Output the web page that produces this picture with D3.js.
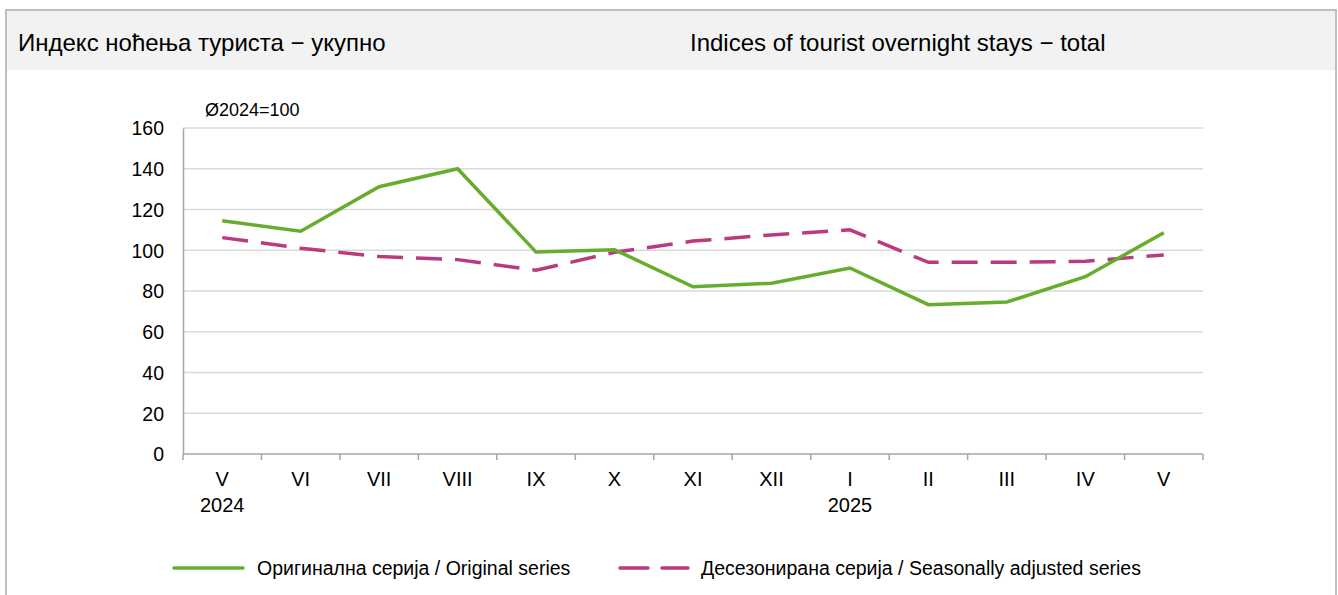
<!DOCTYPE html>
<html><head><meta charset="utf-8">
<script src="https://cdn.jsdelivr.net/npm/d3@7"></script>
<style>
html,body{margin:0;padding:0;background:#fff;}
svg text{font-family:"Liberation Sans",Arial,sans-serif;fill:#000;}
</style></head>
<body>
<svg id="c" width="1338" height="595"></svg>
<script>
const months = ["V","VI","VII","VIII","IX","X","XI","XII","I","II","III","IV","V"];
const years = ["2024","","","","","","","","2025","","","",""];
const original = [114.5,109.3,131.2,140.0,99.1,100.3,82.1,83.8,91.3,73.3,74.6,87.0,108.6];
const adjusted = [106.2,101.0,96.9,95.4,90.2,99.0,104.5,107.5,110.0,94.1,94.1,94.6,97.7];
const yTicks = [0,20,40,60,80,100,120,140,160];

const svg = d3.select("#c");
// frame
svg.append("rect").attr("x",6).attr("y",10).attr("width",1330).attr("height",600)
  .attr("fill","#fff").attr("stroke","#bfbfbf").attr("stroke-width",2);
svg.append("rect").attr("x",7).attr("y",11).attr("width",1328).attr("height",59).attr("fill","#f2f2f2");
svg.append("text").attr("x",18).attr("y",51).attr("font-size",24).text("Индекс ноћења туриста − укупно");
svg.append("text").attr("x",690).attr("y",51).attr("font-size",24).text("Indices of tourist overnight stays − total");

const x0 = 183, x1 = 1203, yTop = 128, yBot = 454;
const idx = d3.range(months.length);
const xb = d3.scaleBand().domain(idx).range([x0,x1]).padding(0);
const y = d3.scaleLinear().domain([0,160]).range([yBot,yTop]);
const cx = i => xb(i) + xb.bandwidth()/2;

// gridlines
svg.append("g").selectAll("line").data(yTicks.filter(d=>d>0)).join("line")
  .attr("x1",x0).attr("x2",x1).attr("y1",d=>y(d)).attr("y2",d=>y(d))
  .attr("stroke","#d9d9d9").attr("stroke-width",1.3);

// y axis
const ya = svg.append("g").attr("transform",`translate(${x0},0)`)
  .call(d3.axisLeft(y).tickValues(yTicks).tickSize(0).tickPadding(19));
ya.select(".domain").attr("stroke","#a6a6a6").attr("stroke-width",1.5);
ya.selectAll("text").attr("font-size",19.5).attr("font-family","Liberation Sans, Arial, sans-serif").attr("dy","0.35em");

// x axis
svg.append("line").attr("x1",x0).attr("x2",x1).attr("y1",yBot).attr("y2",yBot)
  .attr("stroke","#a6a6a6").attr("stroke-width",1.5);
svg.append("g").selectAll("line").data(d3.range(months.length+1)).join("line")
  .attr("x1",i=> i<months.length? xb(i): x1).attr("x2",i=> i<months.length? xb(i): x1)
  .attr("y1",yBot).attr("y2",yBot+6).attr("stroke","#a6a6a6").attr("stroke-width",1.5);
svg.append("g").selectAll("text").data(idx).join("text")
  .attr("x",cx).attr("y",486).attr("text-anchor","middle").attr("font-size",20).text(i=>months[i]);
svg.append("g").selectAll("text").data(idx.filter(i=>years[i])).join("text")
  .attr("x",cx).attr("y",512).attr("text-anchor","middle").attr("font-size",20).text(i=>years[i]);

svg.append("text").attr("x",205).attr("y",116).attr("font-size",18).text("Ø2024=100");

const line = d3.line().x((d,i)=>cx(i)).y(d=>y(d));
svg.append("path").datum(adjusted).attr("d",line).attr("fill","none")
  .attr("stroke","#bb3a7f").attr("stroke-width",3.5).attr("stroke-dasharray","26,13");
svg.append("path").datum(original).attr("d",line).attr("fill","none")
  .attr("stroke","#67ad2d").attr("stroke-width",3.5);

// legend
const lg = svg.append("g");
lg.append("line").attr("x1",174).attr("x2",243).attr("y1",568).attr("y2",568)
  .attr("stroke","#67ad2d").attr("stroke-width",3.5).attr("stroke-linecap","round");
lg.append("text").attr("x",257).attr("y",575).attr("font-size",19.5).text("Оригинална серија / Original series");
lg.append("line").attr("x1",620).attr("x2",688).attr("y1",568).attr("y2",568)
  .attr("stroke","#bb3a7f").attr("stroke-width",3.5).attr("stroke-linecap","round").attr("stroke-dasharray","28,14");
lg.append("text").attr("x",701).attr("y",575).attr("font-size",19.5).text("Десезонирана серија / Seasonally adjusted series");
</script>
</body></html>
